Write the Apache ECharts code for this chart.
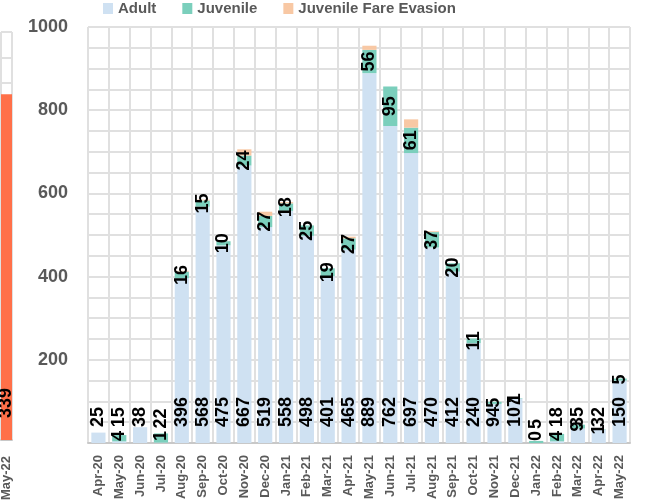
<!DOCTYPE html>
<html>
<head>
<meta charset="utf-8">
<script src="https://cdn.jsdelivr.net/npm/echarts@6/dist/echarts.min.js"></script>
<style>
html,body{margin:0;padding:0;background:#fff;}
#c{width:645px;height:503px;}
</style>
</head>
<body>
<div id="c"></div>
<script>
const categories = ['Apr-20','May-20','Jun-20','Jul-20','Aug-20','Sep-20','Oct-20','Nov-20','Dec-20',
  'Jan-21','Feb-21','Mar-21','Apr-21','May-21','Jun-21','Jul-21','Aug-21','Sep-21','Oct-21','Nov-21','Dec-21',
  'Jan-22','Feb-22','Mar-22','Apr-22','May-22'];
const adult =       [25, 4, 38, 1, 396, 568, 475, 667, 519, 558, 498, 401, 465, 889, 762, 697, 470, 412, 240, 94, 107, 0, 4, 35, 32, 150];
const juvenile =    [null, 15, null, 22, 16, 15, 10, 24, 27, 18, 25, 19, 27, 56, 95, 61, 37, 20, 11, 5, 1, 5, 18, 9, 1, 5];
const fareEvasion = [0, 0, 0, 0, 2, 2, 0, 15, 10, 3, 0, 0, 4, 10, 0, 20, 2, 0, 0, 0, 0, 0, 0, 0, 0, 0];
const yTickLabels = [200, 400, 600, 800, 1000];

// neighbouring (cropped) chart at the left edge
const leftCategories = ['May-22'];
const leftValues = [339];

const FONT = "'Liberation Sans', Arial, sans-serif";
const GRAY = '#595959';
const GRID = '#e0e0e0';

const labelBase = {
  show: true, rotate: 90, fontFamily: FONT, fontWeight: 'bold', fontSize: 18, color: '#000'
};

const adultData = adult.map(v => ({
  value: v,
  label: { distance: v < 10 ? 2 : 16 }
}));
const juvData = juvenile.map((v, i) => {
  if (v == null) return null;
  if (adult[i] < 10) {
    return { value: v, label: { position: 'insideBottom', align: 'left', verticalAlign: 'middle', distance: 14 } };
  }
  return v;
});

const chart = echarts.init(document.getElementById('c'), null, { renderer: 'canvas' });
chart.setOption({
  animation: false,
  backgroundColor: '#fff',
  legend: {
    top: 1, left: 103, padding: 0,
    icon: 'rect', itemWidth: 10, itemHeight: 11, itemGap: 26,
    textStyle: { fontFamily: FONT, fontWeight: 'bold', fontSize: 15, color: GRAY },
    data: ['Adult', 'Juvenile', 'Juvenile Fare Evasion']
  },
  grid: [
    { left: 88, right: 15, top: 27, bottom: 60, containLabel: false },
    { left: -4, width: 16, top: 32, bottom: 63, containLabel: false }
  ],
  xAxis: [
    {
      type: 'category', gridIndex: 0, data: categories,
      axisLine: { show: true, lineStyle: { color: '#c8c8c8', width: 2 } },
      axisTick: { show: false },
      splitLine: { show: true, lineStyle: { color: GRID, width: 2 } },
      axisLabel: { rotate: 90, margin: 12, fontFamily: FONT, fontWeight: 'bold', fontSize: 13, color: GRAY, interval: 0 }
    },
    {
      type: 'category', gridIndex: 1, data: leftCategories,
      axisLine: { show: true, lineStyle: { color: '#c8c8c8', width: 2 } },
      axisTick: { show: false },
      splitLine: { show: true, lineStyle: { color: GRID, width: 2 } },
      axisLabel: { rotate: 90, margin: 16, fontFamily: FONT, fontWeight: 'bold', fontSize: 13, color: GRAY, interval: 0 }
    }
  ],
  yAxis: [
    {
      type: 'value', gridIndex: 0, min: 0, max: 1000, interval: 50,
      axisLine: { show: false }, axisTick: { show: false },
      splitLine: { show: true, lineStyle: { color: GRID, width: 2 } },
      axisLabel: {
        margin: 20, fontFamily: FONT, fontWeight: 'bold', fontSize: 18, color: GRAY,
        formatter: v => (yTickLabels.indexOf(v) >= 0 ? String(v) : '')
      }
    },
    {
      type: 'value', gridIndex: 1, min: 0, max: 400, interval: 25,
      axisLine: { show: false }, axisTick: { show: false },
      splitLine: { show: true, lineStyle: { color: GRID, width: 2 } },
      axisLabel: { show: false }
    }
  ],
  series: [
    {
      name: 'Adult', type: 'bar', stack: 'total', xAxisIndex: 0, yAxisIndex: 0,
      barCategoryGap: '32%',
      itemStyle: { color: '#cfe1f2' },
      label: Object.assign({}, labelBase, { position: 'insideBottom', align: 'left', verticalAlign: 'middle', distance: 16 }),
      data: adultData
    },
    {
      name: 'Juvenile', type: 'bar', stack: 'total', xAxisIndex: 0, yAxisIndex: 0,
      itemStyle: { color: '#7bcfbc' },
      label: Object.assign({}, labelBase, { position: 'inside' }),
      data: juvData
    },
    {
      name: 'Juvenile Fare Evasion', type: 'bar', stack: 'total', xAxisIndex: 0, yAxisIndex: 0,
      itemStyle: { color: '#f8c8a4' },
      label: { show: false },
      data: fareEvasion
    },
    {
      name: 'Left', type: 'bar', xAxisIndex: 1, yAxisIndex: 1,
      barWidth: 12,
      itemStyle: { color: '#ff7049' },
      label: Object.assign({}, labelBase, { position: 'insideBottom', align: 'left', verticalAlign: 'middle', distance: 22 }),
      data: leftValues
    }
  ]
});
</script>
</body>
</html>
